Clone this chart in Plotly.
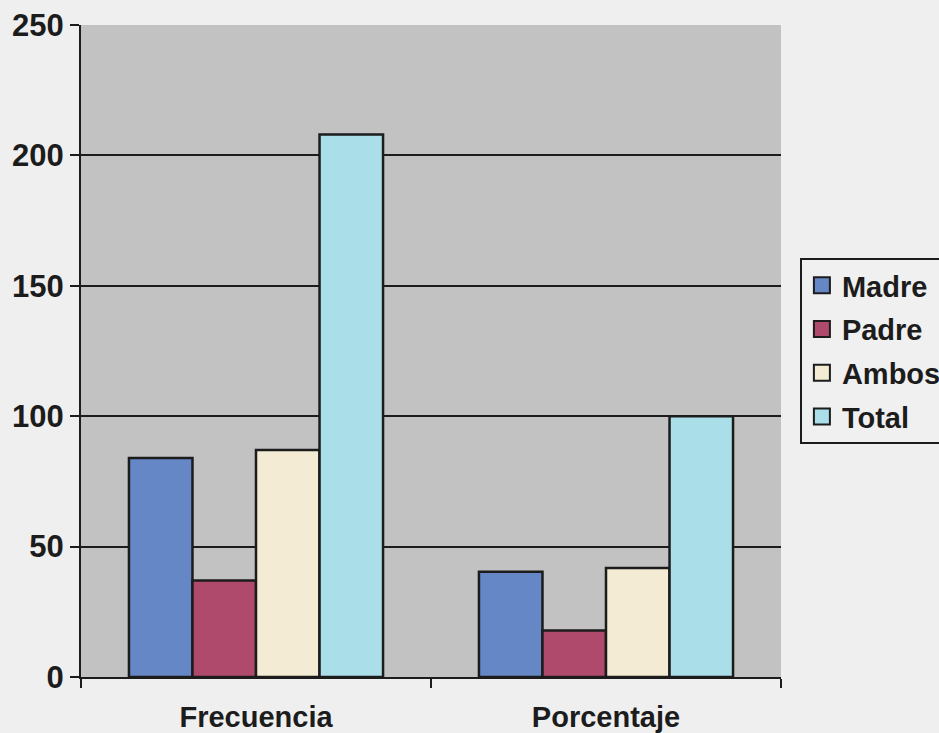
import plotly.graph_objects as go

categories = ["Frecuencia", "Porcentaje"]
series_names = ["Madre", "Padre", "Ambos", "Total"]
madre = [84, 40.4]
padre = [37, 17.8]
ambos = [87, 41.8]
total = [208, 100]
y_ticks = [0, 50, 100, 150, 200, 250]

colors = ["#6587c6", "#b04a6c", "#f3ebd3", "#aadfea"]
values = [madre, padre, ambos, total]

font_family = "Liberation Sans, Arial, sans-serif"
ink = "#1c1c1c"

fig = go.Figure()
for name, vals, col in zip(series_names, values, colors):
    fig.add_trace(go.Bar(
        name=name, x=categories, y=vals, showlegend=False,
        marker=dict(color=col, line=dict(color=ink, width=2.5)),
    ))
# legend entries with larger square swatches
for i, (name, col) in enumerate(zip(series_names, colors)):
    fig.add_trace(go.Scatter(
        name=name, x=[None], y=[None], mode="markers",
        legendgroup=f"g{i}",
        marker=dict(symbol="square", size=17, color=col,
                    line=dict(color=ink, width=2)),
    ))

fig.update_layout(
    width=939, height=733,
    margin=dict(l=81, r=158, t=25, b=56, autoexpand=False),
    paper_bgcolor="#efefef",
    plot_bgcolor="#c2c2c2",
    barmode="group",
    bargap=0.274,
    bargroupgap=0,
    font=dict(family=font_family, size=26, color=ink),
    legend=dict(
        x=1.027, y=0.5, xanchor="left", yanchor="middle",
        bgcolor="#f0f0f0", bordercolor=ink, borderwidth=2,
        font=dict(family=font_family, size=29, color=ink, weight="bold"),
        tracegroupgap=3, itemwidth=30,
    ),
    showlegend=True,
)
fig.update_xaxes(
    showline=True, linecolor=ink, linewidth=2, automargin=False,
    ticks="outside", ticklen=9, tickwidth=2, tickcolor=ink,
    tickson="boundaries", showgrid=False, ticklabelstandoff=13,
    tickfont=dict(family=font_family, size=29, color=ink, weight="bold"),
)
fig.update_yaxes(
    range=[0, 250], tickvals=y_ticks, automargin=False,
    showline=True, linecolor=ink, linewidth=2,
    ticks="outside", ticklen=9, tickwidth=2, tickcolor=ink,
    showgrid=True, gridcolor=ink, gridwidth=2,
    zeroline=False,
    tickfont=dict(family=font_family, size=31, color=ink, weight="bold"),
)
fig.write_html(
    "out.html",
    config={"displayModeBar": False},
    post_script="document.body.style.margin='0';document.body.style.background='#efefef';",
)
